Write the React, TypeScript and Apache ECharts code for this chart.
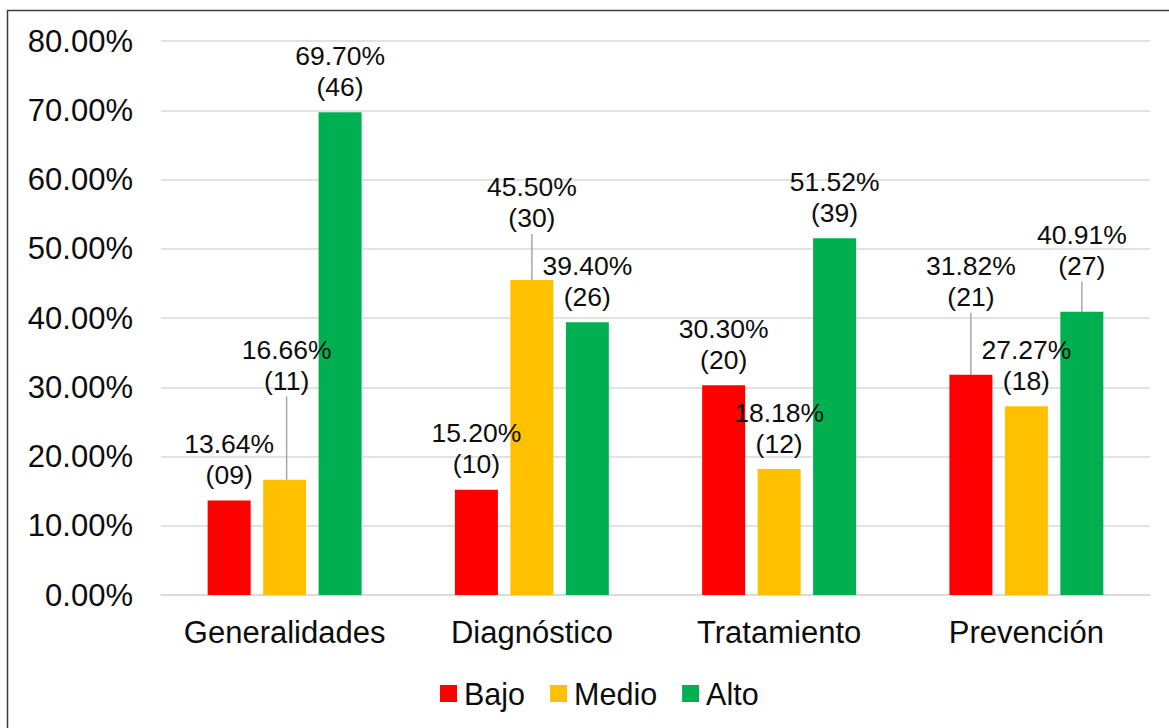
import React, { useEffect, useRef } from "react";
import * as echarts from "echarts";

const categories = ["Generalidades", "Diagnóstico", "Tratamiento", "Prevención"];
const seriesNames = ["Bajo", "Medio", "Alto"];
const bajoPct = [13.64, 15.2, 30.3, 31.82];
const bajoCount = [9, 10, 20, 21];
const medioPct = [16.66, 45.5, 18.18, 27.27];
const medioCount = [11, 30, 12, 18];
const altoPct = [69.7, 39.4, 51.52, 40.91];
const altoCount = [46, 26, 39, 27];
const yMin = 0;
const yMax = 80;
const yStep = 10;

const colors = ["#ff0000", "#ffc000", "#00b050"];
const FONT = "'Liberation Sans', Arial, sans-serif";

// label displacement (layout only): [series, category] -> [dx, dy]
const labelShift: Record<string, [number, number]> = {
  "1-0": [2, -73],
  "1-1": [0, -36],
  "0-3": [0, -52],
  "2-3": [0, -20],
};

export default function App() {
  const ref = useRef<HTMLDivElement>(null);
  useEffect(() => {
    if (!ref.current) return;
    const chart = echarts.init(ref.current, undefined, { renderer: "svg" });
    const pcts = [bajoPct, medioPct, altoPct];
    const counts = [bajoCount, medioCount, altoCount];
    const series = seriesNames.map((name, si) => ({
      name,
      type: "bar",
      barWidth: 43,
      barGap: "29%",
      itemStyle: { color: colors[si] },
      data: pcts[si].map((v, ci) => ({
        value: v,
        labelLine: { show: !!labelShift[`${si}-${ci}`] },
      })),
      label: {
        show: true,
        position: "top",
        distance: 10,
        fontFamily: FONT,
        fontSize: 26.5,
        lineHeight: 31,
        color: "#0d0d0d",
        formatter: (p: any) =>
          `${Number(p.value).toFixed(2)}%\n(${String(counts[si][p.dataIndex]).padStart(2, "0")})`,
      },
      labelLine: {
        show: false,
        lineStyle: { color: "#a6a6a6", width: 1.5 },
      },
      labelLayout: (p: any) => {
        const s = labelShift[`${si}-${p.dataIndex}`];
        return s ? { dx: s[0], dy: s[1] } : {};
      },
    }));
    chart.setOption({
      animation: false,
      backgroundColor: "#ffffff",
      textStyle: { fontFamily: FONT },
      graphic: [
        {
          type: "rect",
          shape: { x: 7.5, y: 10.5, width: 1300, height: 900 },
          style: { fill: "none", stroke: "#3f3f3f", lineWidth: 1.5 },
          silent: true,
          z: 100,
        },
      ],
      grid: { left: 161, right: 19, top: 41, bottom: 133, containLabel: false },
      legend: {
        data: seriesNames,
        left: 435,
        top: 673,
        icon: "rect",
        itemWidth: 17,
        itemHeight: 17,
        itemGap: 25,
        textStyle: { fontFamily: FONT, fontSize: 30.5, color: "#0d0d0d", padding: [0, 0, 0, 2] },
      },
      xAxis: {
        type: "category",
        data: categories,
        axisTick: { show: false },
        axisLine: { lineStyle: { color: "#d9d9d9", width: 1.5 } },
        axisLabel: { fontFamily: FONT, fontSize: 31, color: "#0d0d0d", margin: 22, interval: 0 },
      },
      yAxis: {
        type: "value",
        min: yMin,
        max: yMax,
        interval: yStep,
        axisLine: { show: false },
        axisTick: { show: false },
        splitLine: { lineStyle: { color: "#d9d9d9", width: 1.5 } },
        axisLabel: {
          fontFamily: FONT,
          fontSize: 31,
          color: "#0d0d0d",
          margin: 28,
          formatter: (v: number) => `${v.toFixed(2)}%`,
        },
      },
      series,
    });
    return () => chart.dispose();
  }, []);
  return (
    <div
      ref={ref}
      style={{ position: "fixed", left: 0, top: 0, width: 1169, height: 728 }}
    />
  );
}
